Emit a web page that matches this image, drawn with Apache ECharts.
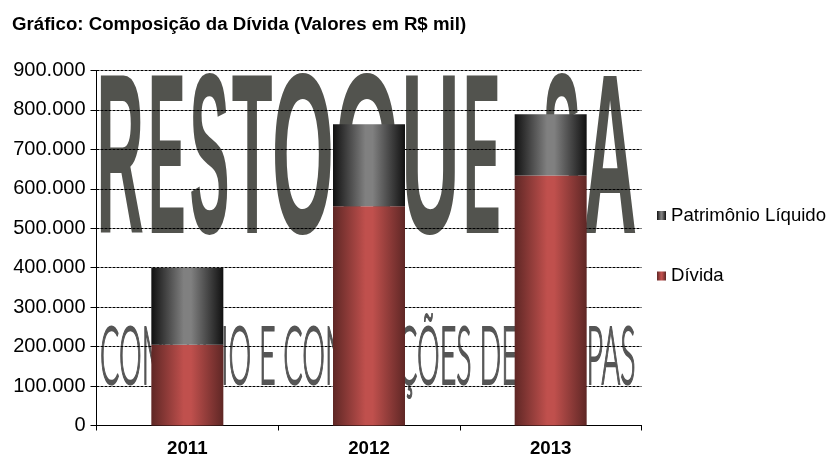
<!DOCTYPE html>
<html><head><meta charset="utf-8">
<script src="https://cdn.jsdelivr.net/npm/echarts@6/dist/echarts.min.js"></script>
<style>html,body{margin:0;padding:0;background:#fff}#c{width:837px;height:465px}</style>
</head><body><div id="c"></div>
<script>
const categories = ['2011','2012','2013'];
const divida = [205000,556000,634000];
const patrimonio = [195000,208000,155000];
const titleText = 'Gráfico: Composição da Dívida (Valores em R$ mil)';
const watermarkLetters = ['R','E','S','T','O','Q','U','E','S','A'];
const letterX = [96.4,148,189.6,231.7,271.8,334.7,401.3,463,542.7,583];
const letterScale = [0.656,0.564,0.6,0.667,0.8,0.83,0.81,0.564,0.57,0.75];
const watermarkBottom = 'COMÉRCIO E CONFECÇÕES DE ROUPAS';
const fmt = v => v === 0 ? '0' : String(v/1000) + '.000';
const grad = (edge, mid) => ({type:'linear',x:0,y:0,x2:1,y2:0,colorStops:[
  {offset:0,color:edge},{offset:0.45,color:mid},{offset:0.55,color:mid},{offset:1,color:edge}]});
const chart = echarts.init(document.getElementById('c'),null,{renderer:'canvas'});
chart.setOption({
  animation:false,
  backgroundColor:'#fff',
  title:{text:titleText,left:12,top:15,padding:0,textStyle:{fontFamily:'Liberation Sans',fontWeight:'bold',fontSize:18.66,color:'#000'}},
  legend:{orient:'vertical',left:657,top:206,padding:0,itemWidth:9,itemHeight:9,itemGap:41.5,icon:'rect',
    data:['Patrimônio Líquido','Dívida'],
    textStyle:{fontFamily:'Liberation Sans',fontSize:18.6,color:'#000'}},
  grid:{left:96.5,right:195.5,top:70.5,bottom:39.5,containLabel:false},
  xAxis:{type:'category',data:categories,
    axisLine:{lineStyle:{color:'#000',width:1}},
    axisTick:{show:true,length:5,alignWithLabel:false,lineStyle:{color:'#000'}},
    axisLabel:{fontFamily:'Liberation Sans',fontWeight:'bold',fontSize:18.66,color:'#000',margin:14}},
  yAxis:{type:'value',min:0,max:900000,interval:100000,
    axisLine:{show:true,lineStyle:{color:'#000',width:1}},
    axisTick:{show:true,length:6,lineStyle:{color:'#000'}},
    splitLine:{show:true,lineStyle:{color:'#000',width:1,type:[3,1]}},
    axisLabel:{fontFamily:'Liberation Sans',fontSize:20,color:'#000',margin:11,formatter:fmt}},
  series:[
    {name:'Dívida',type:'bar',stack:'t',barWidth:72,data:divida,itemStyle:{color:grad('#5f2725','#c0504d')}},
    {name:'Patrimônio Líquido',type:'bar',stack:'t',barWidth:72,data:patrimonio,itemStyle:{color:grad('#111111','#808080')}}
  ],
  graphic:[
    ...watermarkLetters.map((ch,i)=>({type:'text',z:-5,x:letterX[i],y:56,scaleX:letterScale[i],scaleY:2.28,silent:true,
      style:{text:ch,fontFamily:'Liberation Sans',fontWeight:'bold',fontSize:100,fill:'#52534e',textBaseline:'top'}})),
    {type:'text',z:-5,x:100,y:317,scaleX:0.4775,scaleY:1.35,silent:true,
      style:{text:watermarkBottom,fontFamily:'Lato',fontWeight:300,fontSize:60,fill:'#555555',stroke:'#555555',lineWidth:1.6,textBaseline:'top'}}
  ]
});
</script></body></html>
